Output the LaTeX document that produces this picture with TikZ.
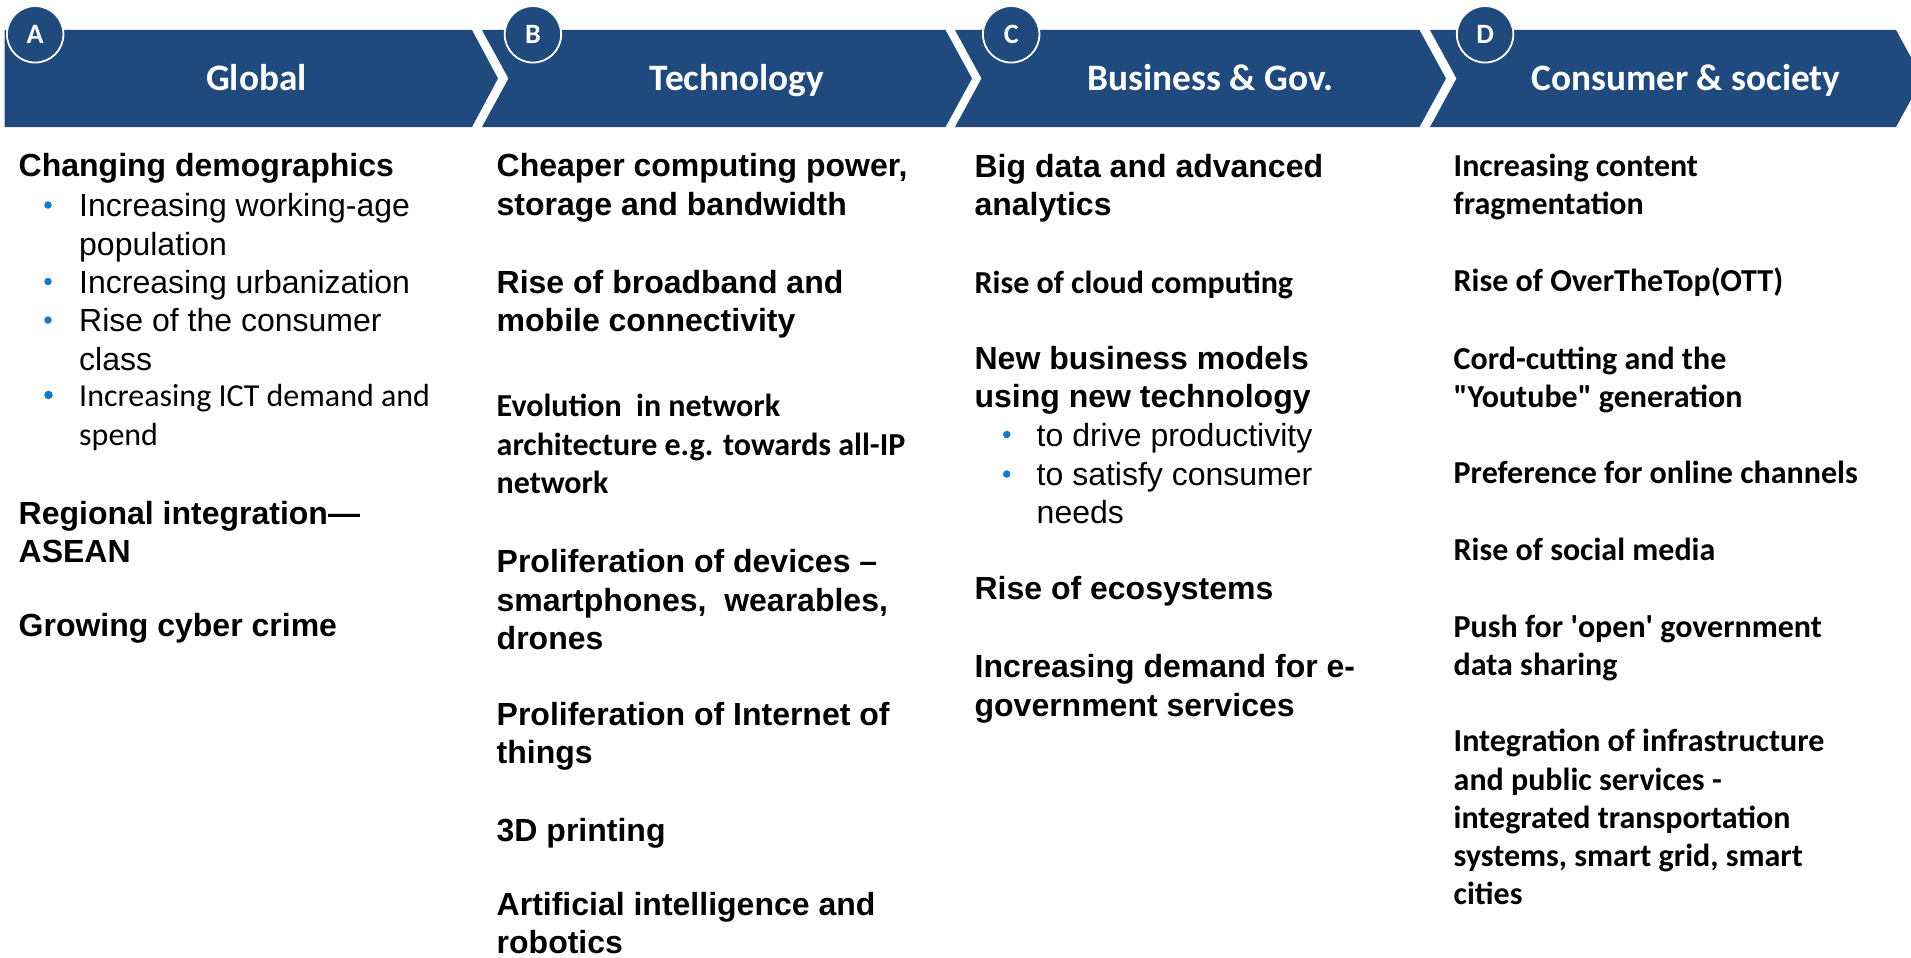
\documentclass[tikz,border=0pt]{standalone}
\usepackage{fontspec}
\newfontfamily\fArial{Liberation Sans}
\newfontfamily\fCal{Carlito}
\definecolor{hdrblue}{RGB}{32,74,125}
\definecolor{bulblue}{RGB}{20,120,200}
\newcommand\fAB{\fArial\bfseries\fontsize{32}{38.3}\selectfont}
\newcommand\fAR{\fArial\fontsize{32}{38.3}\selectfont}
\newcommand\fCB{\fCal\bfseries\fontsize{32}{38.3}\selectfont}
\newcommand\fCR{\fCal\fontsize{32}{38.3}\selectfont}
\newcommand\pbx[1]{\parbox[t]{460pt}{\raggedright #1}}
\tikzset{
  seg/.style={fill=hdrblue, draw=none},
  badge/.style={circle, fill=hdrblue, draw=white, line width=1.8pt, minimum size=56.5pt, inner sep=0pt,
    font=\fCal\bfseries\fontsize{28}{28}\selectfont, text=white},
  hdr/.style={anchor=base, text=white, inner sep=0pt, font=\fCal\bfseries\fontsize{37.3}{40}\selectfont},
  txt/.style={anchor=base west, inner sep=0pt},
  dot/.style={circle, fill=bulblue, minimum size=7.5pt, inner sep=0pt},
}
\begin{document}
\begin{tikzpicture}[x=1pt,y=-1pt]
\useasboundingbox (0,0) rectangle (1911,958);
\clip (0,0) rectangle (1911,958);
% header band
\path[seg] (4.6,30) -- (472,30) -- (498,78.5) -- (472,127) -- (4.6,127) -- cycle;
\path[seg] (482,30) -- (945.5,30) -- (972,78.5) -- (945.5,127) -- (482,127) -- (508.5,78.5) -- cycle;
\path[seg] (955,30) -- (1419.5,30) -- (1446,78.5) -- (1419.5,127) -- (955,127) -- (981.5,78.5) -- cycle;
\path[seg] (1430,30) -- (1896,30) -- (1922.5,78.5) -- (1896,127) -- (1430,127) -- (1456.5,78.5) -- cycle;
\node[hdr] (hA) at (256.4,90.7) {Global};
\node[hdr] (hB) at (737,90.7) {Technology};
\node[hdr] (hC) at (1210.5,90.7) {Business \& Gov.};
\node[hdr] (hD) at (1685.8,90.7) {Consumer \& society};
\node[badge] (cA) at (35.2,34.3) {A};
\node[badge] (cB) at (532.9,34.3) {B};
\node[badge] (cC) at (1011.2,34.3) {C};
\node[badge] (cD) at (1485.1,34.3) {D};
% column A
\node[txt, font=\fAB] (a1) at (18.5,176.7) {\pbx{Changing demographics}};
\node[dot] (a2d) at (48,205) {};
\node[txt, font=\fAR] (a2) at (79,216.7) {\pbx{Increasing working-age\\population}};
\node[dot] (a3d) at (48,281.5) {};
\node[txt, font=\fAR] (a3) at (79,293) {\pbx{Increasing urbanization}};
\node[dot] (a4d) at (48,320) {};
\node[txt, font=\fAR] (a4) at (79,331.7) {\pbx{Rise of the consumer\\class}};
\node[dot, minimum size=8.5pt] (a5d) at (48.5,395) {};
\node[txt, font=\fCR] (a5) at (79,406.7) {\pbx{Increasing ICT demand and\\spend}};
\node[txt, font=\fAB] (a6) at (18.5,524) {\pbx{Regional integration—\\ASEAN}};
\node[txt, font=\fAB] (a7) at (18.5,636) {\pbx{Growing cyber crime}};
% column B
\node[txt, font=\fAB] (b1) at (496.5,176.7) {\pbx{Cheaper computing power,\\storage and bandwidth}};
\node[txt, font=\fAB] (b2) at (496.5,293.3) {\pbx{Rise of broadband and\\mobile connectivity}};
\node[txt, font=\fCB] (b3) at (496.5,416.7) {\pbx{Evolution\ \ in network\\architecture e.g. towards all-IP\\network}};
\node[txt, font=\fAB] (b4) at (496.5,572.7) {\pbx{Proliferation of devices –\\smartphones,\ \ wearables,\\drones}};
\node[txt, font=\fAB] (b5) at (496.5,725) {\pbx{Proliferation of Internet of\\things}};
\node[txt, font=\fAB] (b6) at (496.5,841.7) {\pbx{3D printing}};
\node[txt, font=\fAB] (b7) at (496.5,915.5) {\pbx{Artificial intelligence and\\robotics}};
% column C
\node[txt, font=\fAB] (c1) at (974.4,177.5) {\pbx{Big data and advanced\\analytics}};
\node[txt, font=\fCB] (c2) at (974.4,293) {\pbx{Rise of cloud computing}};
\node[txt, font=\fAB] (c3) at (974.4,369.6) {\pbx{New business models\\using new technology}};
\node[dot] (c4d) at (1006.7,434.5) {};
\node[txt, font=\fAR] (c4) at (1036.5,446) {\pbx{to drive productivity}};
\node[dot] (c5d) at (1006.7,474) {};
\node[txt, font=\fAR] (c5) at (1036.5,485.6) {\pbx{to satisfy consumer\\needs}};
\node[txt, font=\fAB] (c6) at (974.4,599) {\pbx{Rise of ecosystems}};
\node[txt, font=\fAB] (c7) at (974.4,677.7) {\pbx{Increasing demand for e-\\government services}};
% column D
\node[txt, font=\fCB] (d1) at (1453.5,176) {\pbx{Increasing content\\fragmentation}};
\node[txt, font=\fCB] (d2) at (1453.5,291.7) {\pbx{Rise of OverTheTop(OTT)}};
\node[txt, font=\fCB] (d3) at (1453.5,369.3) {\pbx{Cord-cutting and the\\\textquotedbl Youtube\textquotedbl\ generation}};
\node[txt, font=\fCB] (d4) at (1453.5,483.3) {\pbx{Preference for online channels}};
\node[txt, font=\fCB] (d5) at (1453.5,560) {\pbx{Rise of social media}};
\node[txt, font=\fCB] (d6) at (1453.5,637.3) {\pbx{Push for \textquotesingle open\textquotesingle\ government\\data sharing}};
\node[txt, font=\fCB] (d7) at (1453.5,751.7) {\pbx{Integration of infrastructure\\and public services -\\integrated transportation\\systems, smart grid, smart\\cities}};
\end{tikzpicture}
\end{document}
